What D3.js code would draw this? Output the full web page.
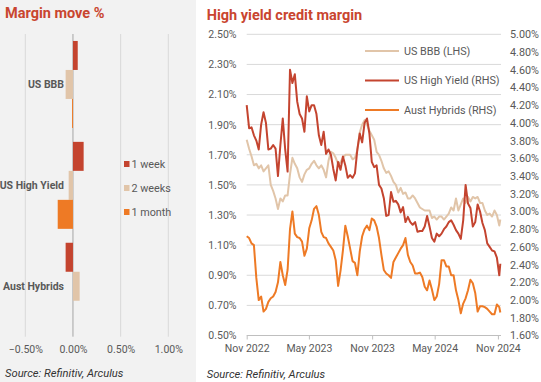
<!DOCTYPE html>
<html>
<head>
<meta charset="utf-8">
<script src="https://cdn.jsdelivr.net/npm/d3@7"></script>
<style>
  body { margin: 0; background: #ffffff; }
  svg { display: block; font-family: Roboto, "Open Sans", sans-serif; }
</style>
</head>
<body>
<svg id="chart" width="541" height="382"></svg>
<script>
// ---------- Left panel data ----------
const categories = ["US BBB", "US High Yield", "Aust Hybrids"];
const periods = ["1 week", "2 weeks", "1 month"];
const move1Week = [0.05, 0.112, -0.077];
const move2Weeks = [-0.077, -0.045, 0.07];
const move1Month = [-0.01, -0.16, 0.0];
const barTicks = [-0.5, 0, 0.5, 1.0];

// ---------- Right panel data ----------
const dates = [
  "2022-11-01","2022-11-08","2022-11-15","2022-11-22","2022-11-29","2022-12-06","2022-12-13","2022-12-20","2022-12-27",
  "2023-01-03","2023-01-10","2023-01-17","2023-01-24","2023-01-31","2023-02-07","2023-02-14","2023-02-21","2023-02-28",
  "2023-03-07","2023-03-14","2023-03-21","2023-03-28","2023-04-04","2023-04-11","2023-04-18","2023-04-25",
  "2023-05-02","2023-05-09","2023-05-16","2023-05-23","2023-05-30","2023-06-06","2023-06-13","2023-06-20","2023-06-27",
  "2023-07-04","2023-07-11","2023-07-18","2023-07-25","2023-08-01","2023-08-08","2023-08-15","2023-08-22","2023-08-29",
  "2023-09-05","2023-09-12","2023-09-19","2023-09-26","2023-10-03","2023-10-10","2023-10-17","2023-10-24","2023-10-31",
  "2023-11-07","2023-11-14","2023-11-21","2023-11-28","2023-12-05","2023-12-12","2023-12-19","2023-12-26",
  "2024-01-02","2024-01-09","2024-01-16","2024-01-23","2024-01-30","2024-02-06","2024-02-13","2024-02-20","2024-02-27",
  "2024-03-05","2024-03-12","2024-03-19","2024-03-26","2024-04-02","2024-04-09","2024-04-16","2024-04-23","2024-04-30",
  "2024-05-07","2024-05-14","2024-05-21","2024-05-28","2024-06-04","2024-06-11","2024-06-18","2024-06-25",
  "2024-07-02","2024-07-09","2024-07-16","2024-07-23","2024-07-30","2024-08-06","2024-08-13","2024-08-20","2024-08-27",
  "2024-09-03","2024-09-10","2024-09-17","2024-09-24","2024-10-01","2024-10-08","2024-10-15","2024-10-22","2024-10-29",
  "2024-11-05","2024-11-08"
];
const usBBB = [
  1.80,1.74,1.69,1.63,1.64,1.61,1.63,1.59,1.61,1.63,
  1.50,1.46,1.41,1.34,1.41,1.39,1.43,1.43,1.57,1.68,
  1.64,1.61,1.55,1.52,1.57,1.60,1.61,1.64,1.66,1.63,
  1.61,1.63,1.60,1.55,1.66,1.72,1.71,1.68,1.64,1.65,
  1.68,1.70,1.70,1.70,1.67,1.68,1.73,1.85,1.90,1.93,
  1.90,1.86,1.83,1.80,1.72,1.70,1.66,1.61,1.58,1.59,
  1.56,1.52,1.50,1.45,1.48,1.44,1.45,1.41,1.41,1.43,
  1.41,1.38,1.35,1.34,1.33,1.33,1.33,1.28,1.29,1.27,
  1.29,1.29,1.27,1.29,1.31,1.35,1.33,1.41,1.33,1.37,
  1.41,1.38,1.42,1.39,1.42,1.41,1.42,1.38,1.38,1.33,
  1.30,1.31,1.29,1.33,1.30,1.23,1.27
];
const usHighYield = [
  4.20,3.94,3.95,3.86,3.80,3.70,3.98,4.12,4.00,3.70,
  3.71,3.75,3.71,3.40,3.75,4.05,3.70,3.45,4.60,4.45,
  4.55,4.24,4.10,4.05,3.90,4.30,4.13,4.20,4.20,4.10,
  3.86,3.75,3.90,3.65,3.70,3.64,3.48,3.35,3.56,3.47,
  3.62,3.52,3.38,3.41,3.38,3.43,3.70,3.88,3.78,4.00,
  4.05,3.88,3.56,3.50,3.52,3.30,3.26,3.15,2.95,2.96,
  3.22,3.11,3.12,3.08,2.99,3.05,2.88,2.94,2.88,2.85,
  2.88,2.77,2.78,2.78,2.83,2.95,2.83,2.70,2.66,2.75,
  2.72,2.75,2.80,2.83,2.88,2.90,2.85,2.79,2.75,2.69,
  2.90,3.30,3.09,3.04,2.83,2.88,3.08,3.00,2.87,2.79,
  2.64,2.60,2.56,2.55,2.48,2.28,2.41
];
const austHybrids = [
  2.72,2.70,2.64,2.62,2.25,2.00,2.04,1.87,1.90,1.98,
  2.02,2.04,2.09,2.20,2.43,2.28,2.17,2.34,2.80,3.00,
  2.75,2.71,2.70,2.66,2.50,2.58,2.81,2.90,3.03,3.06,
  2.96,2.77,2.71,2.70,2.64,2.60,2.56,2.45,2.16,2.33,
  2.56,2.84,2.72,2.58,2.44,2.42,2.28,2.55,2.72,2.80,
  2.84,2.79,2.92,2.90,2.83,2.70,2.51,2.34,2.30,2.28,
  2.25,2.43,2.48,2.53,2.58,2.62,2.70,2.51,2.43,2.39,
  2.30,2.30,2.31,2.26,2.15,2.11,2.22,2.12,2.00,2.04,
  2.18,2.45,2.45,2.38,2.38,2.28,2.28,2.11,2.00,1.85,
  1.96,2.02,2.11,2.23,2.19,2.08,1.87,1.93,1.93,1.92,
  1.90,1.87,1.84,1.84,1.95,1.92,1.86
];
const leftTicks = [0.5,0.7,0.9,1.1,1.3,1.5,1.7,1.9,2.1,2.3,2.5];
const rightTicks = [1.6,1.8,2.0,2.2,2.4,2.6,2.8,3.0,3.2,3.4,3.6,3.8,4.0,4.2,4.4,4.6,4.8,5.0];
const dateTicks = ["2022-11-01","2023-05-01","2023-11-01","2024-05-01","2024-11-01"];
const seriesNames = ["US BBB (LHS)", "US High Yield (RHS)", "Aust Hybrids (RHS)"];

// ---------- Styles ----------
const RED = "#c4442f", BEIGE = "#e1c5a9", ORANGE = "#ee7a25";
const TITLE = "#c9452f", TXT = "#595959", GRID = "#d9d9d9";

const svg = d3.select("#chart");
const parse = d3.timeParse("%Y-%m-%d");

// ================= LEFT PANEL =================
svg.append("rect").attr("x", 0).attr("y", 0).attr("width", 196).attr("height", 382).attr("fill", "#f2f2f2");
svg.append("text").attr("x", 5).attr("y", 18).attr("fill", TITLE)
  .attr("font-size", 14.5).attr("font-weight", 700).text("Margin move %");

const bx = d3.scaleLinear().domain([-0.5, 1.0]).range([25.3, 168.3]);
const by = d3.scaleBand().domain(categories).range([34, 336.7]).paddingInner(0).paddingOuter(0);
const byInner = d3.scaleBand().domain(periods).range([0, by.bandwidth()]).paddingInner(0).paddingOuter(0.24);

const gLeft = svg.append("g");
gLeft.selectAll("line.vg").data(barTicks).join("line")
  .attr("x1", d => bx(d)).attr("x2", d => bx(d))
  .attr("y1", 34).attr("y2", 336.7)
  .attr("stroke", d => d === 0 ? "#a6a6a6" : GRID).attr("stroke-width", 1);

const barSeries = [move1Week, move2Weeks, move1Month];
const barColors = [RED, BEIGE, ORANGE];
barSeries.forEach((vals, i) => {
  gLeft.selectAll("rect.s" + i).data(vals).join("rect")
    .attr("x", d => Math.min(bx(0), bx(d)))
    .attr("width", d => Math.abs(bx(d) - bx(0)))
    .attr("y", (d, j) => by(categories[j]) + byInner(periods[i]))
    .attr("height", byInner.bandwidth())
    .attr("fill", barColors[i]);
});

const xAxisL = d3.axisBottom(bx).tickValues(barTicks).tickSize(0).tickPadding(0)
  .tickFormat(d => d3.format(".2f")(d) + "%");
const gxl = svg.append("g").attr("transform", "translate(0,352.5)").call(xAxisL);
gxl.select(".domain").remove();
gxl.selectAll("text").attr("dy", 0).attr("fill", TXT).attr("font-size", 10.5)
  .attr("font-family", "Roboto, sans-serif");

gLeft.selectAll("text.cat").data(categories).join("text")
  .attr("x", 64).attr("y", d => by(d) + by.bandwidth() / 2 + 3.5)
  .attr("text-anchor", "end").attr("fill", TXT).attr("font-size", 10.5).attr("font-weight", 700)
  .text(d => d);

const legL = gLeft.selectAll("g.legl").data(periods).join("g")
  .attr("transform", (d, i) => `translate(124,${164 + i * 24})`);
legL.append("rect").attr("x", 0).attr("y", -3).attr("width", 5.5).attr("height", 6)
  .attr("fill", (d, i) => barColors[i]);
legL.append("text").attr("x", 7.5).attr("y", 3.8).attr("fill", TXT).attr("font-size", 10.8).text(d => d);

svg.append("text").attr("x", 5).attr("y", 376.5).attr("fill", "#333").attr("font-size", 11.2)
  .attr("font-style", "italic").text("Source: Refinitiv, Arculus");

// ================= RIGHT PANEL =================
svg.append("text").attr("x", 206.7).attr("y", 20).attr("fill", TITLE)
  .attr("font-size", 14.5).attr("font-weight", 700).text("High yield credit margin");

const x = d3.scaleTime().domain([parse("2022-11-01"), parse("2024-11-10")]).range([246.7, 501]);
const yL = d3.scaleLinear().domain([0.5, 2.5]).range([335.5, 34.3]);
const yR = d3.scaleLinear().domain([1.6, 5.0]).range([335.5, 34.3]);

const gR = svg.append("g");
gR.selectAll("line.hg").data(leftTicks).join("line")
  .attr("x1", 246.7).attr("x2", 501)
  .attr("y1", d => yL(d)).attr("y2", d => yL(d))
  .attr("stroke", d => d === 0.5 ? "#bfbfbf" : GRID).attr("stroke-width", 1);

const fmtPct = d => d3.format(".2f")(d) + "%";
const gyl = svg.append("g").attr("transform", "translate(236.5,0)")
  .call(d3.axisLeft(yL).tickValues(leftTicks).tickSize(0).tickPadding(0).tickFormat(fmtPct));
gyl.select(".domain").remove();
gyl.selectAll("text").attr("fill", TXT).attr("font-size", 10.5).attr("font-family", "Roboto, sans-serif");

const gyr = svg.append("g").attr("transform", "translate(510,0)")
  .call(d3.axisRight(yR).tickValues(rightTicks).tickSize(0).tickPadding(0).tickFormat(fmtPct));
gyr.select(".domain").remove();
gyr.selectAll("text").attr("fill", TXT).attr("font-size", 10.8).attr("font-family", "Roboto, sans-serif");

const gx = svg.append("g").attr("transform", "translate(0,335.5)")
  .call(d3.axisBottom(x).tickValues(dateTicks.map(parse)).tickSize(4).tickPadding(5)
    .tickFormat(d3.timeFormat("%b %Y")));
gx.select(".domain").remove();
gx.selectAll("line").attr("stroke", "#bfbfbf");
gx.selectAll("text").attr("fill", TXT).attr("font-size", 10.5).attr("font-family", "Roboto, sans-serif");

const pts = dates.map(parse);
const lineL = d3.line().x((d, i) => x(pts[i])).y(d => yL(d));
const lineR = d3.line().x((d, i) => x(pts[i])).y(d => yR(d));

gR.append("path").datum(usBBB).attr("d", lineL).attr("fill", "none")
  .attr("stroke", BEIGE).attr("stroke-width", 2).attr("stroke-linejoin", "round");
gR.append("path").datum(usHighYield).attr("d", lineR).attr("fill", "none")
  .attr("stroke", RED).attr("stroke-width", 2).attr("stroke-linejoin", "round");
gR.append("path").datum(austHybrids).attr("d", lineR).attr("fill", "none")
  .attr("stroke", ORANGE).attr("stroke-width", 2).attr("stroke-linejoin", "round");

const lineColors = [BEIGE, RED, ORANGE];
const legR = svg.append("g").selectAll("g").data(seriesNames).join("g")
  .attr("transform", (d, i) => `translate(365,${51 + i * 29.5})`);
legR.append("rect").attr("x", 0).attr("y", -1.5).attr("width", 34).attr("height", 3).attr("fill", "#ffffff");
legR.append("line").attr("x1", 0).attr("x2", 34).attr("y1", 0).attr("y2", 0)
  .attr("stroke", (d, i) => lineColors[i]).attr("stroke-width", 2);
legR.append("text").attr("x", 39).attr("y", 3.8).attr("fill", TXT).attr("font-size", 10.8).text(d => d);

svg.append("text").attr("x", 206.7).attr("y", 377.5).attr("fill", "#333").attr("font-size", 11.2)
  .attr("font-style", "italic").text("Source: Refinitiv, Arculus");
</script>
</body>
</html>
